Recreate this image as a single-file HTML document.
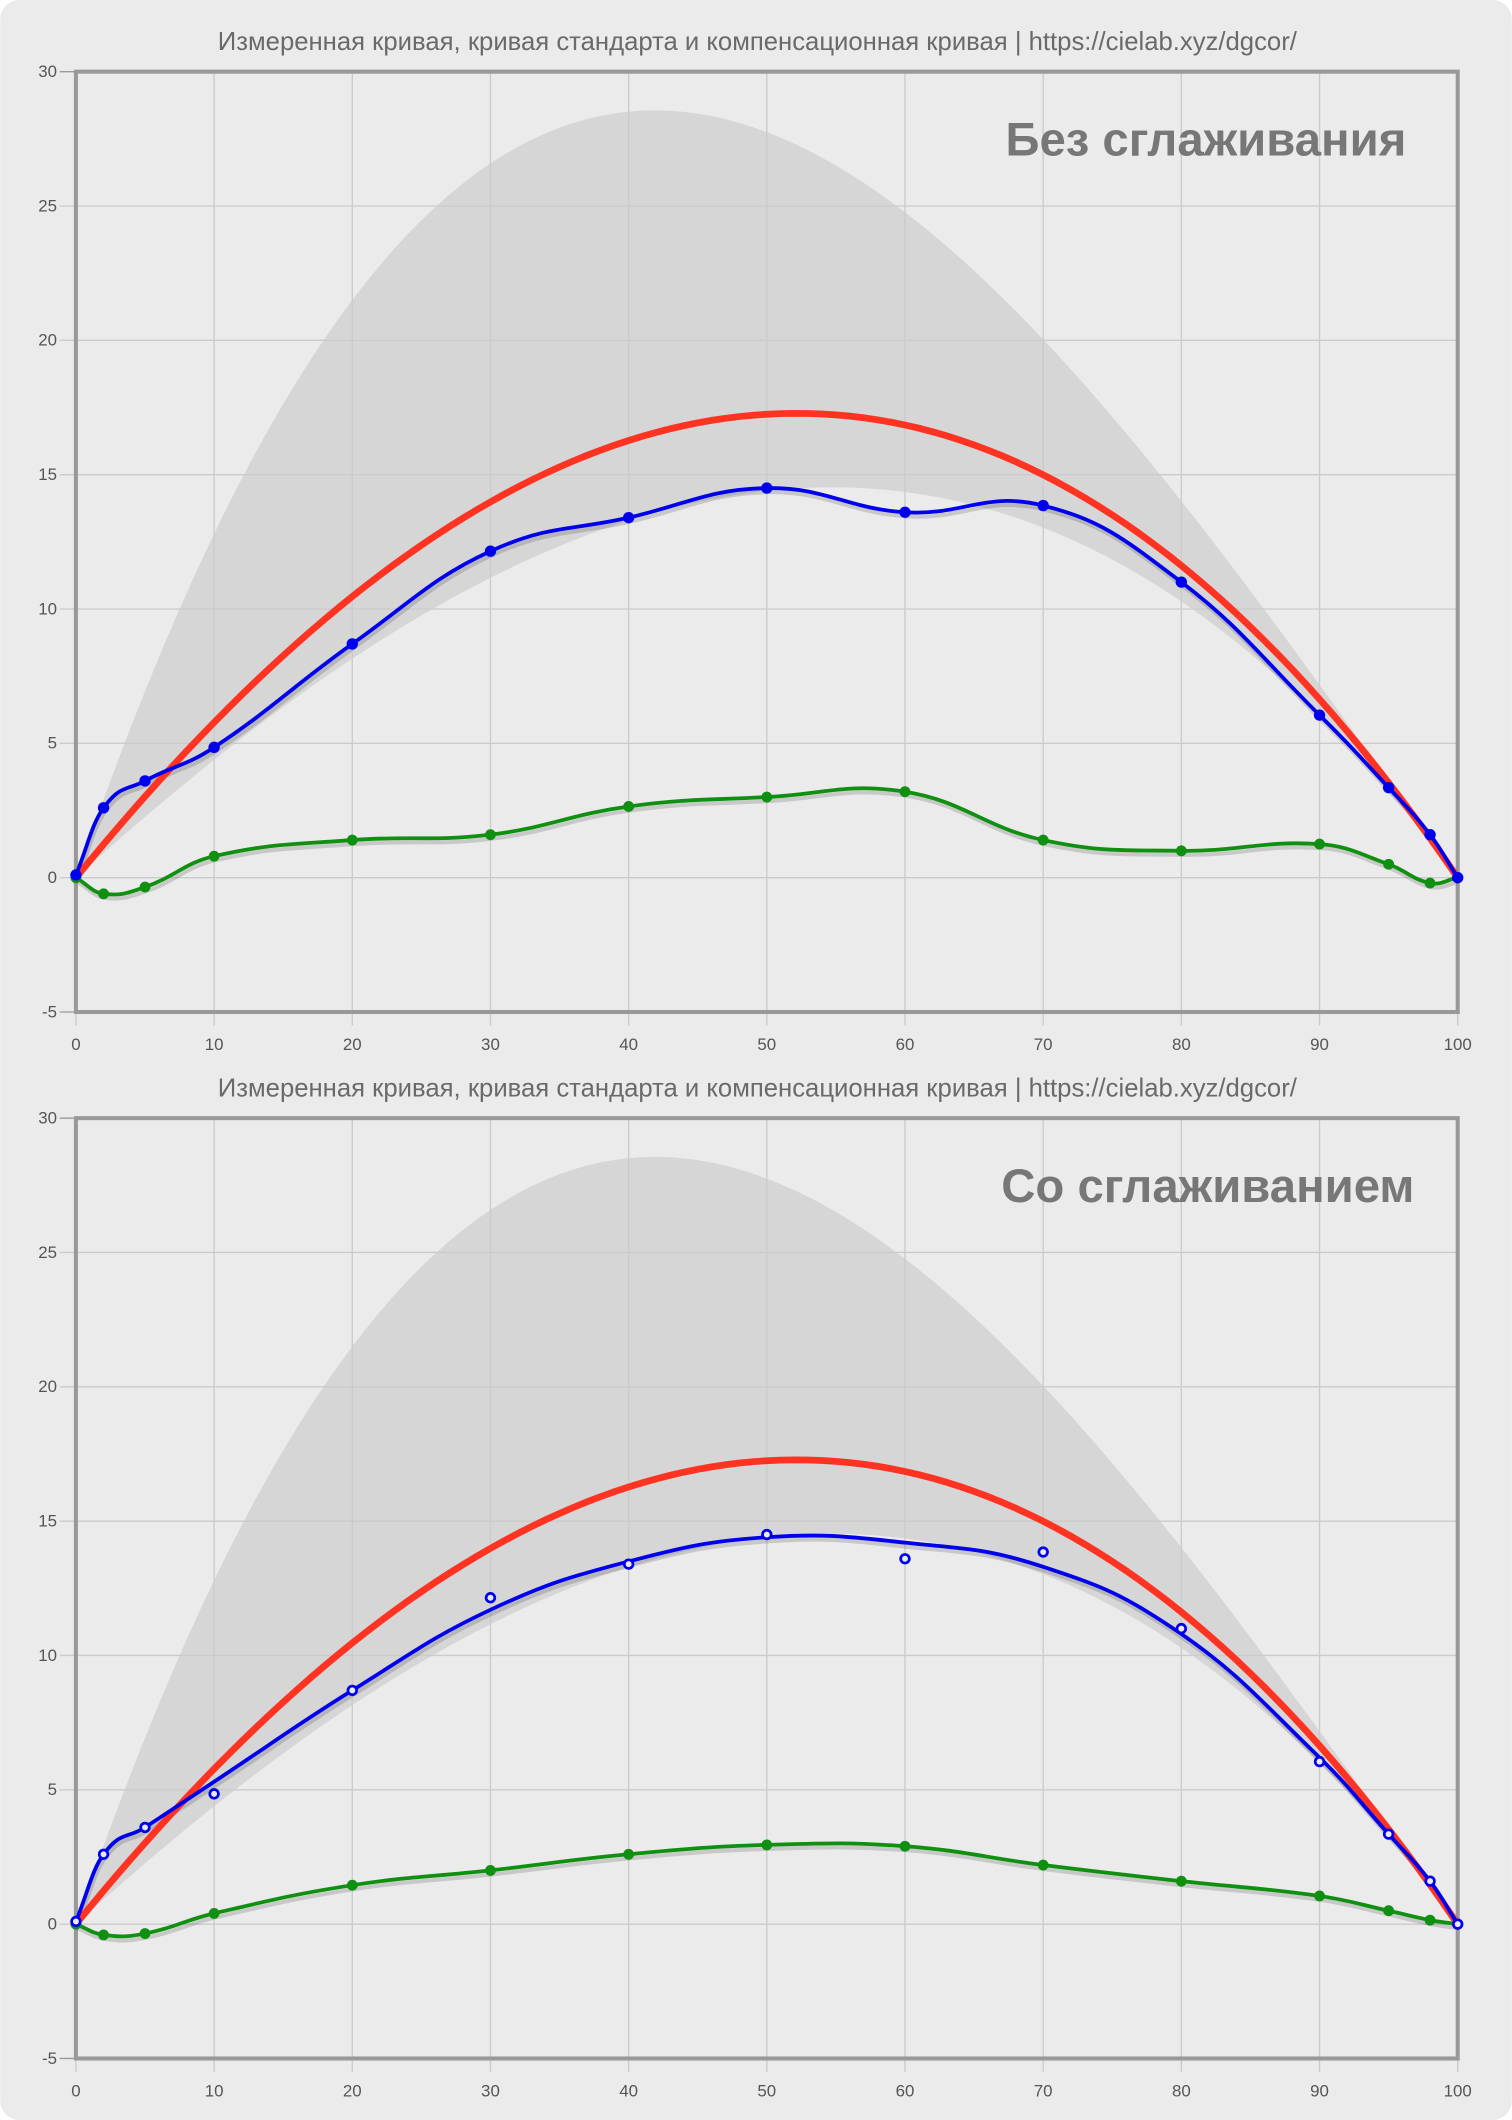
<!DOCTYPE html>
<html><head><meta charset="utf-8"><style>
html,body{margin:0;padding:0;background:#fff;}
svg{display:block}
</style></head><body>
<svg id="s" width="1512" height="2120" viewBox="0 0 1118 1568" xmlns="http://www.w3.org/2000/svg" font-family="'Liberation Sans', sans-serif">
<rect x="0" y="0" width="1118" height="1568" rx="14" fill="#ebebeb"/>
<g id="g"></g>
</svg>
<script>
const NS="http://www.w3.org/2000/svg";
const g=document.getElementById('g');
function el(t,a,txt){const e=document.createElementNS(NS,t);for(const k in a)e.setAttribute(k,a[k]);if(txt!==undefined)e.textContent=txt;g.appendChild(e);return e;}
const L=56,R=1078;
const X=v=>L+(R-L)*v/100;
function cr(pts){
 let d=`M${pts[0][0]},${pts[0][1]}`;
 const t=0.42;
 for(let i=0;i<pts.length-1;i++){
  const p0=pts[Math.max(0,i-1)],p1=pts[i],p2=pts[i+1],p3=pts[Math.min(pts.length-1,i+2)];
  const dx=p2[0]-p1[0];
  const s1=(p2[1]-p0[1])/Math.max(1e-6,(p2[0]-p0[0]));
  const s2=(p3[1]-p1[1])/Math.max(1e-6,(p3[0]-p1[0]));
  const c1=[p1[0]+dx*t, p1[1]+s1*dx*t];
  const c2=[p2[0]-dx*t, p2[1]-s2*dx*t];
  d+=` C${c1[0]},${c1[1]} ${c2[0]},${c2[1]} ${p2[0]},${p2[1]}`;
 }
 return d;
}
const xs=[0,2,5,10,20,30,40,50,60,70,80,90,95,98,100];
const blueP=[0.1,2.6,3.6,4.85,8.7,12.15,13.4,14.5,13.6,13.85,11,6.05,3.35,1.6,0];
const charts=[
 {top:53,label:"Без сглаживания",lx:1040,blueC:blueP,hollow:false,
  green:[0,-0.6,-0.35,0.8,1.4,1.6,2.65,3,3.2,1.4,1,1.25,0.5,-0.2,0]},
 {top:827,label:"Со сглаживанием",lx:1046,blueC:[0.1,2.6,3.6,5.3,8.7,11.7,13.5,14.4,14.2,13.3,10.8,6.2,3.35,1.6,0],hollow:true,
  green:[0,-0.4,-0.35,0.4,1.45,2,2.6,2.95,2.9,2.2,1.6,1.05,0.5,0.15,0]}
];
charts.forEach(c=>{
 const H=695.5, Y=v=>c.top+(30-v)*H/35;
 el('text',{x:560,y:c.top-16,'text-anchor':'middle','font-size':19,fill:'#6a6a6a'},"Измеренная кривая, кривая стандарта и компенсационная кривая | https://cielab.xyz/dgcor/");
 let up=[],lo=[];
 for(let x=0;x<=100;x+=1){up.push([X(x),Y(x*(100-x)*(0.0150-7.8e-5*x))]);lo.push([X(x),Y(x*(100-x)*(0.00465+2.22e-5*x))]);}
 el('path',{d:'M'+up.map(p=>p.join(',')).join(' L')+' L'+lo.reverse().map(p=>p.join(',')).join(' L')+'Z',fill:'#d6d6d6'});
 for(let v=-5;v<=30;v+=5){el('line',{x1:L-12,x2:R,y1:Y(v),y2:Y(v),stroke:v==-5||v==30?'#999':'#cbcbcb','stroke-width':1});
  el('text',{x:L-14,y:Y(v)+4,'text-anchor':'end','font-size':12.5,fill:'#555'},String(v));}
 for(let v=0;v<=100;v+=10){el('line',{x1:X(v),x2:X(v),y1:c.top,y2:Y(-5)+10,stroke:'#cbcbcb','stroke-width':1});
  el('text',{x:X(v),y:Y(-5)+28,'text-anchor':'middle','font-size':12.5,fill:'#555'},String(v));}
 el('rect',{x:L,y:c.top,width:R-L,height:H,fill:'none',stroke:'#999','stroke-width':3});
 el('text',{x:c.lx,y:c.top+62,'text-anchor':'end','font-size':35,'font-weight':'bold',fill:'#777'},c.label);
 let rp=[];for(let x=0;x<=100;x++)rp.push([X(x),Y(x*(100-x)*(0.0063+1.2e-5*x))]);
 const rd='M'+rp.map(p=>p.join(',')).join(' L');
 const gp=xs.map((x,i)=>[X(x),Y(c.green[i])]);
 const bp=xs.map((x,i)=>[X(x),Y(c.blueC[i])]);
 [[cr(gp),3],[cr(bp),3]].forEach(([d,w])=>el('path',{d,fill:'none',stroke:'rgba(0,0,0,0.15)','stroke-width':w,transform:'translate(1,3)'}));
 el('path',{d:cr(gp),fill:'none',stroke:'#109010','stroke-width':2.8});
 gp.forEach(p=>el('circle',{cx:p[0],cy:p[1],r:4,fill:'#109010'}));
 el('path',{d:rd,fill:'none',stroke:'#ff3322','stroke-width':5});
 el('path',{d:cr(bp),fill:'none',stroke:'#0000ee','stroke-width':2.8});
 xs.forEach((x,i)=>{const p=[X(x),Y(blueP[i])];
  if(c.hollow)el('circle',{cx:p[0],cy:p[1],r:3.2,fill:'#ebebeb',stroke:'#0000ee','stroke-width':2});
  else el('circle',{cx:p[0],cy:p[1],r:4.2,fill:'#0000ee'});});
});
</script>
</body></html>
